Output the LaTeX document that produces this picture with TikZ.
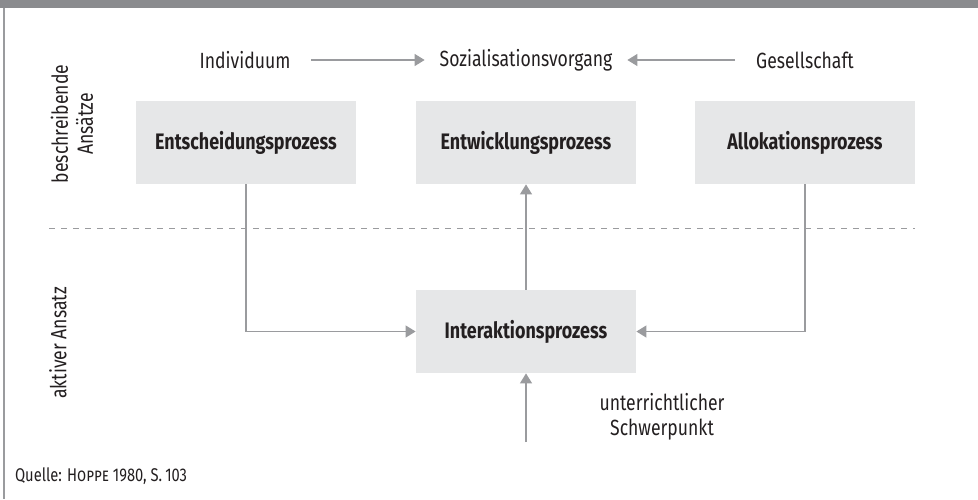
\documentclass[tikz,border=0pt]{standalone}
\usepackage{fontspec}
\setmainfont{Fira Sans}[FakeStretch=0.8]
\usetikzlibrary{arrows.meta,positioning}

\definecolor{bandgray}{HTML}{8A8B8E}
\definecolor{boxgray}{HTML}{E6E7E8}
\definecolor{linegray}{HTML}{9A9B9E}
\definecolor{textdark}{HTML}{231F20}

\tikzset{
	prozess/.style={fill=boxgray, minimum width=110pt, minimum height=41.5pt, font=\bfseries\fontsize{11.2}{13}\selectfont, text=textdark},
	label/.style={font=\fontsize{11}{12.5}\selectfont, text=textdark, align=center},
	pfeil/.style={draw=linegray, line width=0.6pt, -{Triangle[length=5pt,width=6pt]}},
	linie/.style={draw=linegray, line width=0.6pt}
}

\begin{document}
\begin{tikzpicture}[x=0.5pt,y=-0.5pt]
		\useasboundingbox (0,0) rectangle (978,499);
		% Rahmen
		\fill[bandgray] (0,0) rectangle (978,8);
		\draw[linegray, line width=0.8pt] (4,8) -- (4,499);
		
		% obere Zeile
		\node[label] (indiv) at (245,60) {Individuum};
		\node[label] (soz) at (526,60) {Sozialisationsvorgang};
		\node[label] (ges) at (805,60) {Gesellschaft};
		\draw[pfeil, shorten <=7pt, shorten >=4pt] (indiv) -- (soz);
		\draw[pfeil, shorten <=7pt, shorten >=4pt] (ges) -- (soz);
		
		% Prozesse
		\node[prozess] (ent) at (246,142.5) {Entscheidungsprozess};
		\node[prozess] (entw) at (526,142.5) {Entwicklungsprozess};
		\node[prozess] (allo) at (805,142.5) {Allokationsprozess};
		\node[prozess] (inter) at (526,331.5) {Interaktionsprozess};
		
		\draw[linegray, dashed, line width=0.5pt] (49,228) -- (915,228);
		
		\node[label, rotate=90] (beschr) at (72,124) {beschreibende\\Ansätze};
		\node[label, rotate=90] (aktiv) at (58,343) {aktiver Ansatz};
		
		\draw[pfeil] (ent.south) |- (inter.west);
		\draw[pfeil] (allo.south) |- (inter.east);
		\draw[pfeil] (inter.north) -- (entw.south);
		
		\coordinate (unten) at (526,442);
		\draw[pfeil] (unten) -- (inter.south);
		\node[label] (schwer) at (662,417) {unterrichtlicher\\Schwerpunkt};
		
		\node[label, anchor=west, font=\fontsize{9.2}{10}\selectfont] (quelle) at (8,476) {Quelle: \textsc{Hoppe} 1980, S.\,103};
		
\end{tikzpicture}
\end{document}
